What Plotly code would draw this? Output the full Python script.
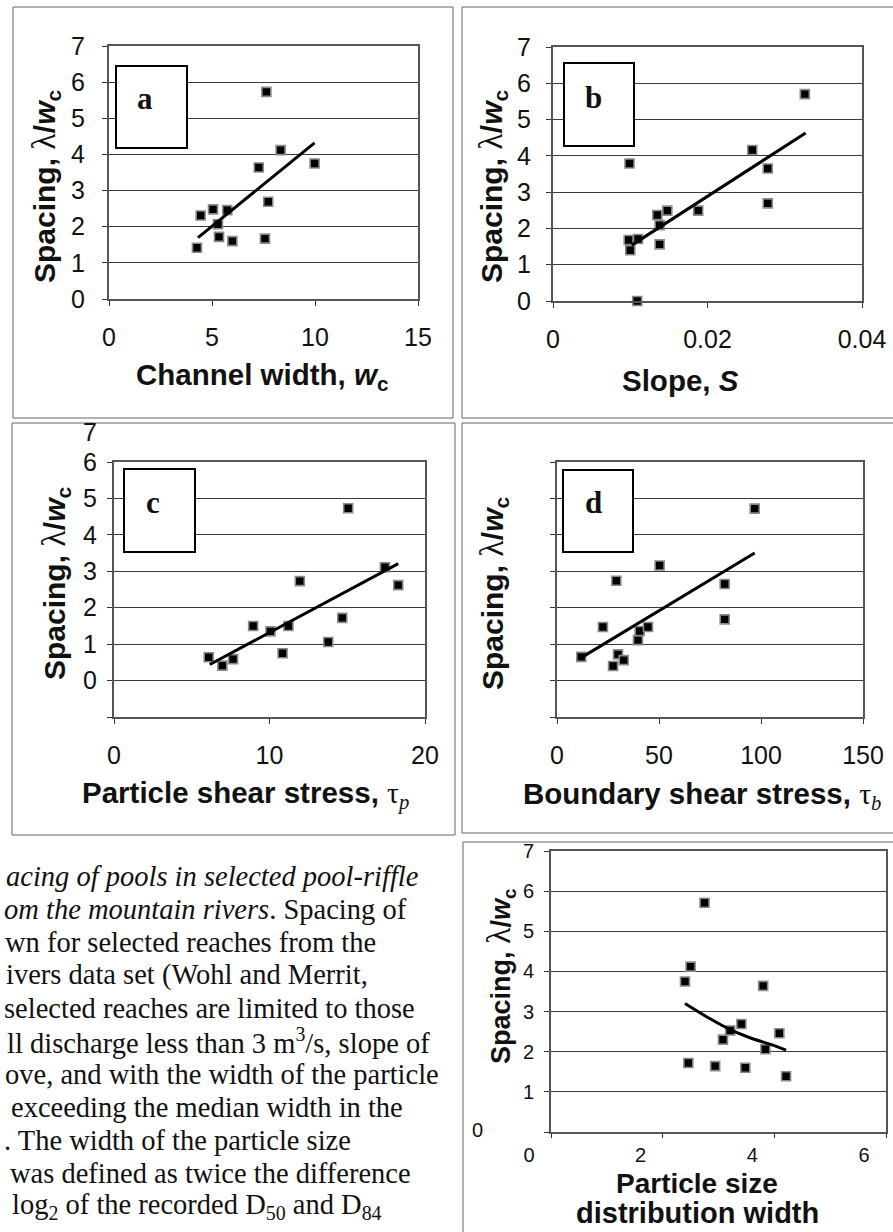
import plotly.graph_objects as go

# ---------------- data ----------------
# panel a: channel width
a_width = [4.27, 4.45, 5.05, 5.29, 5.34, 5.74, 5.99, 7.27, 7.64, 7.57, 7.73, 8.33, 9.98]
a_spacing = [1.42, 2.31, 2.48, 2.07, 1.72, 2.46, 1.60, 3.64, 5.73, 1.67, 2.69, 4.12, 3.75]
a_trend_x = [4.32, 9.98]
a_trend_y = [1.70, 4.32]

# panel b: slope
b_slope = [0.0099, 0.0098, 0.0100, 0.0110, 0.0109, 0.0135, 0.0138, 0.0138, 0.0148,
           0.0188, 0.0258, 0.0278, 0.0278, 0.0326]
b_spacing = [3.79, 1.68, 1.40, 1.71, 0.00, 2.37, 1.56, 2.09, 2.49, 2.49, 4.16, 3.65, 2.69, 5.70]
b_trend_x = [0.0102, 0.0327]
b_trend_y = [1.54, 4.63]

# panel c: particle shear stress
c_tau = [6.09, 6.97, 7.66, 8.95, 10.06, 10.84, 11.22, 11.95, 13.78, 14.68, 15.06, 17.42, 18.28]
c_spacing = [0.64, 0.41, 0.59, 1.50, 1.35, 0.75, 1.50, 2.73, 1.06, 1.72, 4.73, 3.11, 2.62]
c_trend_x = [6.16, 18.28]
c_trend_y = [0.44, 3.21]

# panel d: boundary shear stress
d_tau = [11.9, 22.5, 27.5, 29.1, 29.9, 32.7, 39.7, 40.5, 44.6, 50.3, 82.2, 82.2, 96.9]
d_spacing = [0.65, 1.47, 0.40, 2.74, 0.72, 0.56, 1.11, 1.36, 1.47, 3.16, 2.65, 1.68, 4.72]
d_trend_x = [11.9, 96.9]
d_trend_y = [0.63, 3.50]

# panel e: particle size distribution width
e_width = [2.40, 2.50, 2.46, 2.75, 2.94, 3.08, 3.21, 3.41, 3.48, 3.80, 3.84, 4.09, 4.21]
e_spacing = [3.75, 4.12, 1.72, 5.71, 1.64, 2.30, 2.53, 2.69, 1.60, 3.64, 2.06, 2.46, 1.39]
e_trend_x = [2.40, 2.80, 3.21, 3.60, 4.00, 4.21]
e_trend_y = [3.20, 2.86, 2.55, 2.33, 2.15, 2.04]

# tick labels
a_xticks = [0, 5, 10, 15]
b_xticks = [0, 0.02, 0.04]
b_xticktext = ["0", "0.02", "0.04"]
c_xticks = [0, 10, 20]
d_xticks = [0, 50, 100, 150]
e_xticks = [0, 2, 4, 6]
cd_yticks = [-1, 0, 1, 2, 3, 4, 5, 6]
c_yticktext = ["", "0", "1", "2", "3", "4", "5", "6"]
e_yticks = [0, 1, 2, 3, 4, 5, 6, 7]
e_yticktext = ["", "1", "2", "3", "4", "5", "6", "7"]

caption_lines = [
    "<i>acing of pools in selected pool-riffle</i>",
    "<i>om the mountain rivers</i>. Spacing of",
    "wn for selected reaches from the",
    "ivers data set (Wohl and Merrit,",
    "selected reaches are limited to those",
    "ll discharge less than 3 m<sup>3</sup>/s, slope of",
    "ove, and with the width of the particle",
    "exceeding the median width in the",
    ". The width of the particle size",
    "was defined as twice the difference",
    "log<sub>2</sub> of the recorded D<sub>50</sub> and D<sub>84</sub>",
]
caption_x = [4, 2, 3, 4, 2, 5, 3, 9, 2, 8, 10]

# ---------------- layout helpers ----------------
W, H = 893, 1232
SANS = "Liberation Sans, Arial, sans-serif"
SERIF = "Liberation Serif, Times New Roman, serif"


def px(x):
    return x / W


def py(y):
    return 1 - y / H


def dom_x(l, r):
    return [px(l), px(r)]


def dom_y(t, b):
    return [py(b), py(t)]


def xaxis_style(dom, rng, tickvals, anchor, size=25, ticktext=None, **kw):
    d = dict(domain=dom, range=rng, tickvals=tickvals, anchor=anchor, automargin=False,
             showline=True, mirror=True, linecolor="#555", linewidth=2,
             ticks="outside", ticklen=5, tickcolor="#333", tickwidth=1,
             showgrid=False, zeroline=False,
             tickfont=dict(family=SANS, size=size, color="#111"))
    if ticktext is not None:
        d["ticktext"] = ticktext
    d.update(kw)
    return d


def yaxis_style(dom, rng, tickvals, anchor, size=25, ticktext=None, **kw):
    d = dict(domain=dom, range=rng, tickvals=tickvals, anchor=anchor, automargin=False,
             showline=True, mirror=True, linecolor="#555", linewidth=2,
             ticks="outside", ticklen=5, tickcolor="#333", tickwidth=1,
             showgrid=True, gridcolor="#3a3a3a", gridwidth=1, zeroline=False,
             tickfont=dict(family=SANS, size=size, color="#111"))
    if ticktext is not None:
        d["ticktext"] = ticktext
    d.update(kw)
    return d


marker = dict(symbol="square", size=9, color="black", line=dict(color="#8a8a8a", width=1.6))
tline = dict(color="black", width=3)

fig = go.Figure()
panels = [
    ("x", "y", a_width, a_spacing, a_trend_x, a_trend_y, "linear"),
    ("x2", "y2", b_slope, b_spacing, b_trend_x, b_trend_y, "linear"),
    ("x3", "y3", c_tau, c_spacing, c_trend_x, c_trend_y, "linear"),
    ("x4", "y4", d_tau, d_spacing, d_trend_x, d_trend_y, "linear"),
    ("x5", "y5", e_width, e_spacing, e_trend_x, e_trend_y, "spline"),
]
for xa, ya, xs, ys, tx, ty, shape in panels:
    fig.add_trace(go.Scatter(x=xs, y=ys, mode="markers", marker=marker, xaxis=xa, yaxis=ya,
                             cliponaxis=False, showlegend=False, hoverinfo="x+y"))
    fig.add_trace(go.Scatter(x=tx, y=ty, mode="lines", line=dict(tline, shape=shape),
                             xaxis=xa, yaxis=ya, showlegend=False, hoverinfo="skip"))

fig.update_layout(
    width=W, height=H, autosize=False,
    margin=dict(l=0, r=0, t=0, b=0, pad=0, autoexpand=False),
    paper_bgcolor="white", plot_bgcolor="white",
    xaxis=xaxis_style(dom_x(109, 418), [0, 15], a_xticks, "y", ticklabelstandoff=10),
    yaxis=yaxis_style(dom_y(46, 299), [0, 7], list(range(8)), "x", ticklabelstandoff=12),
    xaxis2=xaxis_style(dom_x(553, 862), [0, 0.04], b_xticks, "y2", ticktext=b_xticktext,
                       ticklabelstandoff=10),
    yaxis2=yaxis_style(dom_y(47, 301), [0, 7], list(range(8)), "x2", ticklabelstandoff=10),
    xaxis3=xaxis_style(dom_x(114, 425), [0, 20], c_xticks, "y3", ticklabelstandoff=10),
    yaxis3=yaxis_style(dom_y(462, 717), [-1, 6], cd_yticks, "x3", ticktext=c_yticktext,
                       ticklabelstandoff=5),
    xaxis4=xaxis_style(dom_x(557, 863), [0, 150], d_xticks, "y4", ticklabelstandoff=10),
    yaxis4=yaxis_style(dom_y(462, 717), [-1, 6], cd_yticks, "x4", showticklabels=False),
    xaxis5=xaxis_style(dom_x(551, 886), [0, 6], e_xticks, "y5", size=20,
                       ticklabelshift=-22, ticklabelstandoff=0, ticklen=4),
    yaxis5=yaxis_style(dom_y(851, 1132), [0, 7], e_yticks, "x5", size=20,
                       ticktext=e_yticktext, ticklabelstandoff=6),
)

shapes = []
# panel frames
frame = dict(type="rect", xref="paper", yref="paper", line=dict(color="#666", width=1),
             fillcolor="rgba(0,0,0,0)", layer="below")
for (l, t, r, b) in [(13, 7, 453, 418), (462, 7, 898, 418), (12, 423, 455, 835),
                     (462, 423, 898, 833), (463, 842, 898, 1240)]:
    shapes.append(dict(frame, x0=px(l), x1=px(r), y0=py(b), y1=py(t)))
# letter boxes
box = dict(type="rect", xref="paper", yref="paper", line=dict(color="black", width=2),
           fillcolor="white", layer="above")
for (l, t, r, b) in [(116, 66, 187, 148), (564, 63, 634, 146), (124, 469, 195, 552),
                     (563, 470, 633, 552)]:
    shapes.append(dict(box, x0=px(l), x1=px(r), y0=py(b), y1=py(t)))
fig.update_layout(shapes=shapes)

ann = []


def text(x, y, s, size, family=SANS, angle=0, xanchor="center", yanchor="middle"):
    ann.append(dict(x=px(x), y=py(y), xref="paper", yref="paper", text=s, showarrow=False,
                    font=dict(family=family, size=size, color="#111"), textangle=angle,
                    xanchor=xanchor, yanchor=yanchor))


lam = "<span style='font-family:Liberation Serif;font-weight:normal;font-size:34px'>λ</span>"
ytitle = "<b>Spacing, </b>" + lam + "<b>/<i>w</i><sub>c</sub></b>"
tau = "<span style='font-family:Liberation Serif;font-weight:normal'>τ<sub><i>%s</i></sub></span>"

text(45, 186, ytitle, 30, angle=-90)
text(262, 377, "<b>Channel width, <i>w</i><sub>c</sub></b>", 29.5)
text(492, 186, ytitle, 30, angle=-90)
text(680, 380, "<b>Slope, <i>S</i></b>", 29.5)
text(55, 583, ytitle, 30, angle=-90)
text(245, 795, "<b>Particle shear stress, </b>" + tau % "p", 29.5)
text(493, 593, ytitle, 30, angle=-90)
text(702, 795, "<b>Boundary shear stress, </b>" + tau % "b", 29.5)
text(500, 976, ytitle, 27, angle=-90)
text(697, 1183, "<b>Particle size</b>", 28)
text(697, 1213, "<b>distribution width</b>", 29)

# panel letters
for (x, y, s) in [(145, 98, "a"), (593, 97, "b"), (153, 503, "c"), (593, 503, "d")]:
    text(x, y, "<b>%s</b>" % s, 31, family=SERIF)

# stray tick labels visible in the scan
text(90, 432, "7", 25)
text(477, 1130, "0", 20)

# caption
for i, (s, x0) in enumerate(zip(caption_lines, caption_x)):
    text(x0, 876 + 33 * i, s, 28.5, family=SERIF, xanchor="left")

fig.update_layout(annotations=ann)
fig.write_html("out.html")
